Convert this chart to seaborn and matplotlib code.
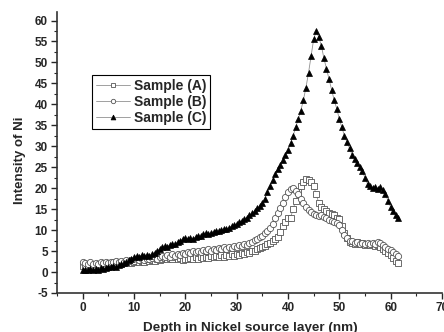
import numpy as np
import matplotlib
matplotlib.use("Agg")
import matplotlib.pyplot as plt
from matplotlib.ticker import MultipleLocator
import seaborn as sns

# depth in nm (0.5 nm steps)
depth = [0.0, 0.5, 1.0, 1.5, 2.0, 2.5, 3.0, 3.5, 4.0, 4.5, 5.0,
         5.5, 6.0, 6.5, 7.0, 7.5, 8.0, 8.5, 9.0, 9.5, 10.0,
         10.5, 11.0, 11.5, 12.0, 12.5, 13.0, 13.5, 14.0, 14.5, 15.0,
         15.5, 16.0, 16.5, 17.0, 17.5, 18.0, 18.5, 19.0, 19.5, 20.0,
         20.5, 21.0, 21.5, 22.0, 22.5, 23.0, 23.5, 24.0, 24.5, 25.0,
         25.5, 26.0, 26.5, 27.0, 27.5, 28.0, 28.5, 29.0, 29.5, 30.0,
         30.5, 31.0, 31.5, 32.0, 32.5, 33.0, 33.5, 34.0, 34.5, 35.0,
         35.5, 36.0, 36.5, 37.0, 37.5, 38.0, 38.5, 39.0, 39.5, 40.0,
         40.5, 41.0, 41.5, 42.0, 42.5, 43.0, 43.5, 44.0, 44.5, 45.0,
         45.5, 46.0, 46.5, 47.0, 47.5, 48.0, 48.5, 49.0, 49.5, 50.0,
         50.5, 51.0, 51.5, 52.0, 52.5, 53.0, 53.5, 54.0, 54.5, 55.0,
         55.5, 56.0, 56.5, 57.0, 57.5, 58.0, 58.5, 59.0, 59.5, 60.0,
         60.5, 61.0, 61.5]

sample_a = [1.5, 1.3, 1.6, 1.4, 1.7, 1.5, 1.8, 1.6, 1.9, 1.7, 2.0,
            1.8, 2.1, 1.9, 2.2, 2.0, 2.3, 2.1, 2.4, 2.2, 2.5,
            2.6, 2.4, 2.7, 2.5, 2.8, 2.6, 2.9, 2.7, 3.0, 2.8,
            3.1, 3.3, 3.0, 3.4, 3.2, 3.5, 3.1, 3.3, 2.9, 3.2,
            3.0, 3.4, 3.1, 3.5, 3.2, 3.6, 3.3, 3.7, 3.4, 3.8,
            3.5, 3.9, 3.6, 4.0, 3.7, 4.1, 3.8, 4.2, 3.9, 4.3,
            4.1, 4.5, 4.3, 4.7, 4.5, 4.9, 5.1, 5.4, 5.7, 6.0,
            6.3, 6.6, 7.0, 7.4, 7.9, 8.4, 9.5, 11.0, 12.0, 13.0,
            13.0, 15.0, 17.0, 19.0, 20.5, 21.5, 22.3, 22.0, 21.5, 20.5,
            18.5, 16.5, 15.5, 15.0, 14.6, 14.0, 13.8, 13.5, 13.0, 12.6,
            11.0, 9.3, 8.0, 7.2, 7.0, 6.8, 7.1, 6.6, 6.9, 6.5,
            6.8, 6.4, 6.7, 6.3, 6.5, 6.0, 5.6, 5.0, 4.5, 4.0,
            3.4, 2.7, 2.2]

sample_b = [2.5, 2.2, 2.0, 2.3, 1.9, 2.2, 2.0, 2.3, 2.1, 2.4, 2.2,
            2.5, 2.3, 2.6, 2.4, 2.7, 2.5, 2.8, 2.6, 2.9, 2.7,
            3.0, 2.8, 3.1, 2.9, 3.2, 3.0, 3.3, 3.5, 3.2, 3.6,
            3.8, 3.5, 4.0, 3.7, 4.2, 3.9, 4.4, 4.1, 4.6, 4.3,
            4.8, 4.5, 5.0, 4.7, 5.1, 4.8, 5.3, 5.0, 5.4, 5.1,
            5.5, 5.3, 5.7, 5.4, 5.9, 5.6, 6.0, 5.8, 6.2, 6.0,
            6.4, 6.2, 6.7, 6.5, 7.0, 7.2, 7.6, 7.9, 8.3, 8.7,
            9.2, 9.8, 10.5, 11.5, 12.8, 14.0, 15.3, 16.5, 17.8, 19.0,
            19.8, 20.0, 19.4, 18.5, 17.5, 16.5, 15.5, 14.8, 14.3, 13.8,
            13.6, 13.3, 13.5, 13.1, 12.8, 12.5, 12.2, 12.0, 11.8, 11.2,
            10.0, 8.8, 8.0, 7.5, 7.3, 7.0, 7.2, 6.8, 7.0, 6.7,
            6.9, 6.6, 7.0, 6.8, 7.2, 6.9, 6.5, 6.0, 5.6, 5.2,
            4.8, 4.3, 3.8]

sample_c = [0.5, 0.6, 0.4, 0.7, 0.5, 0.8, 0.6, 0.9, 0.7, 1.0, 1.1,
            1.2, 1.4, 1.3, 1.6, 1.9, 2.1, 2.5, 2.8, 3.2, 3.6,
            3.9, 3.7, 4.0, 3.8, 4.1, 3.9, 4.3, 4.6, 5.0, 5.4,
            5.9, 6.2, 6.0, 6.5, 6.8, 6.6, 7.1, 7.4, 7.9, 8.2,
            7.8, 8.1, 7.9, 8.4, 8.7, 8.5, 9.0, 9.2, 9.0, 9.4,
            9.6, 9.9, 9.7, 10.1, 10.3, 10.2, 10.6, 10.9, 11.2, 11.5,
            11.9, 12.2, 12.6, 13.0, 13.5, 14.0, 14.6, 15.2, 15.8, 16.5,
            17.5, 19.0, 20.5, 22.0, 23.5, 24.5, 25.5, 26.8, 28.0, 29.0,
            30.7, 32.5, 34.5, 36.5, 38.5, 41.0, 44.0, 47.5, 51.5, 55.5,
            57.5, 56.0, 54.0, 51.0, 48.5, 46.0, 43.5, 41.0, 39.0, 36.5,
            34.5, 32.5, 31.0, 29.5, 28.0, 27.0, 26.0, 25.0, 24.0, 22.5,
            21.0, 20.5, 20.0, 20.3, 19.8, 20.2, 19.5, 18.5, 17.0, 15.5,
            14.5, 13.5, 13.0]

sns.set_style("ticks")
plt.rcParams["font.family"] = ["Liberation Sans", "DejaVu Sans"]
plt.rcParams["font.weight"] = "bold"
plt.rcParams["axes.labelweight"] = "bold"
plt.rcParams["axes.unicode_minus"] = False

fig = plt.figure(figsize=(4.44, 3.32), dpi=100)
ax = fig.add_axes([0.1284, 0.1175, 0.867, 0.846])

sns.lineplot(x=depth, y=sample_a, ax=ax, sort=False, estimator=None,
             color="#909090", lw=0.6, marker="s", ms=4.5, mfc="white",
             mec="#555555", mew=0.6, label="Sample (A)")
sns.lineplot(x=depth, y=sample_b, ax=ax, sort=False, estimator=None,
             color="#909090", lw=0.6, marker="o", ms=4.5, mfc="white",
             mec="#555555", mew=0.6, label="Sample (B)")
sns.lineplot(x=depth, y=sample_c, ax=ax, sort=False, estimator=None,
             color="#909090", lw=0.6, marker="^", ms=5, mfc="black",
             mec="black", mew=0.5, label="Sample (C)")

ax.set_xlim(-5, 70)
ax.set_ylim(-5, 62)
ax.xaxis.set_major_locator(MultipleLocator(10))
ax.xaxis.set_minor_locator(MultipleLocator(5))
ax.yaxis.set_major_locator(MultipleLocator(5))
ax.yaxis.set_minor_locator(MultipleLocator(2.5))
ax.tick_params(which="major", direction="out", length=4, width=1, labelsize=8.5, pad=2.5)
ax.tick_params(which="minor", direction="out", length=2, width=0.8)
for lab in ax.get_xticklabels() + ax.get_yticklabels():
    lab.set_fontweight("bold")

sns.despine(ax=ax)
for s in ["left", "bottom"]:
    ax.spines[s].set_linewidth(1.2)
    ax.spines[s].set_color("#333333")

ax.set_xlabel("Depth in Nickel source layer (nm)", fontsize=9.7, fontweight="bold")
ax.set_ylabel("Intensity of Ni", fontsize=9.5, fontweight="bold")
ax.xaxis.set_label_coords(0.501, -0.103)
ax.yaxis.set_label_coords(-0.08, 0.473)

leg = ax.legend(loc="upper left", bbox_to_anchor=(0.091, 0.776), borderaxespad=0,
                fancybox=False, framealpha=1, edgecolor="black", fontsize=10,
                handlelength=2.4, handletextpad=0.3, borderpad=0.3, labelspacing=0.12,
                markerscale=0.7)
leg.get_frame().set_linewidth(0.8)
for t in leg.get_texts():
    t.set_fontweight("bold")

fig.savefig("out.png", dpi=100)
